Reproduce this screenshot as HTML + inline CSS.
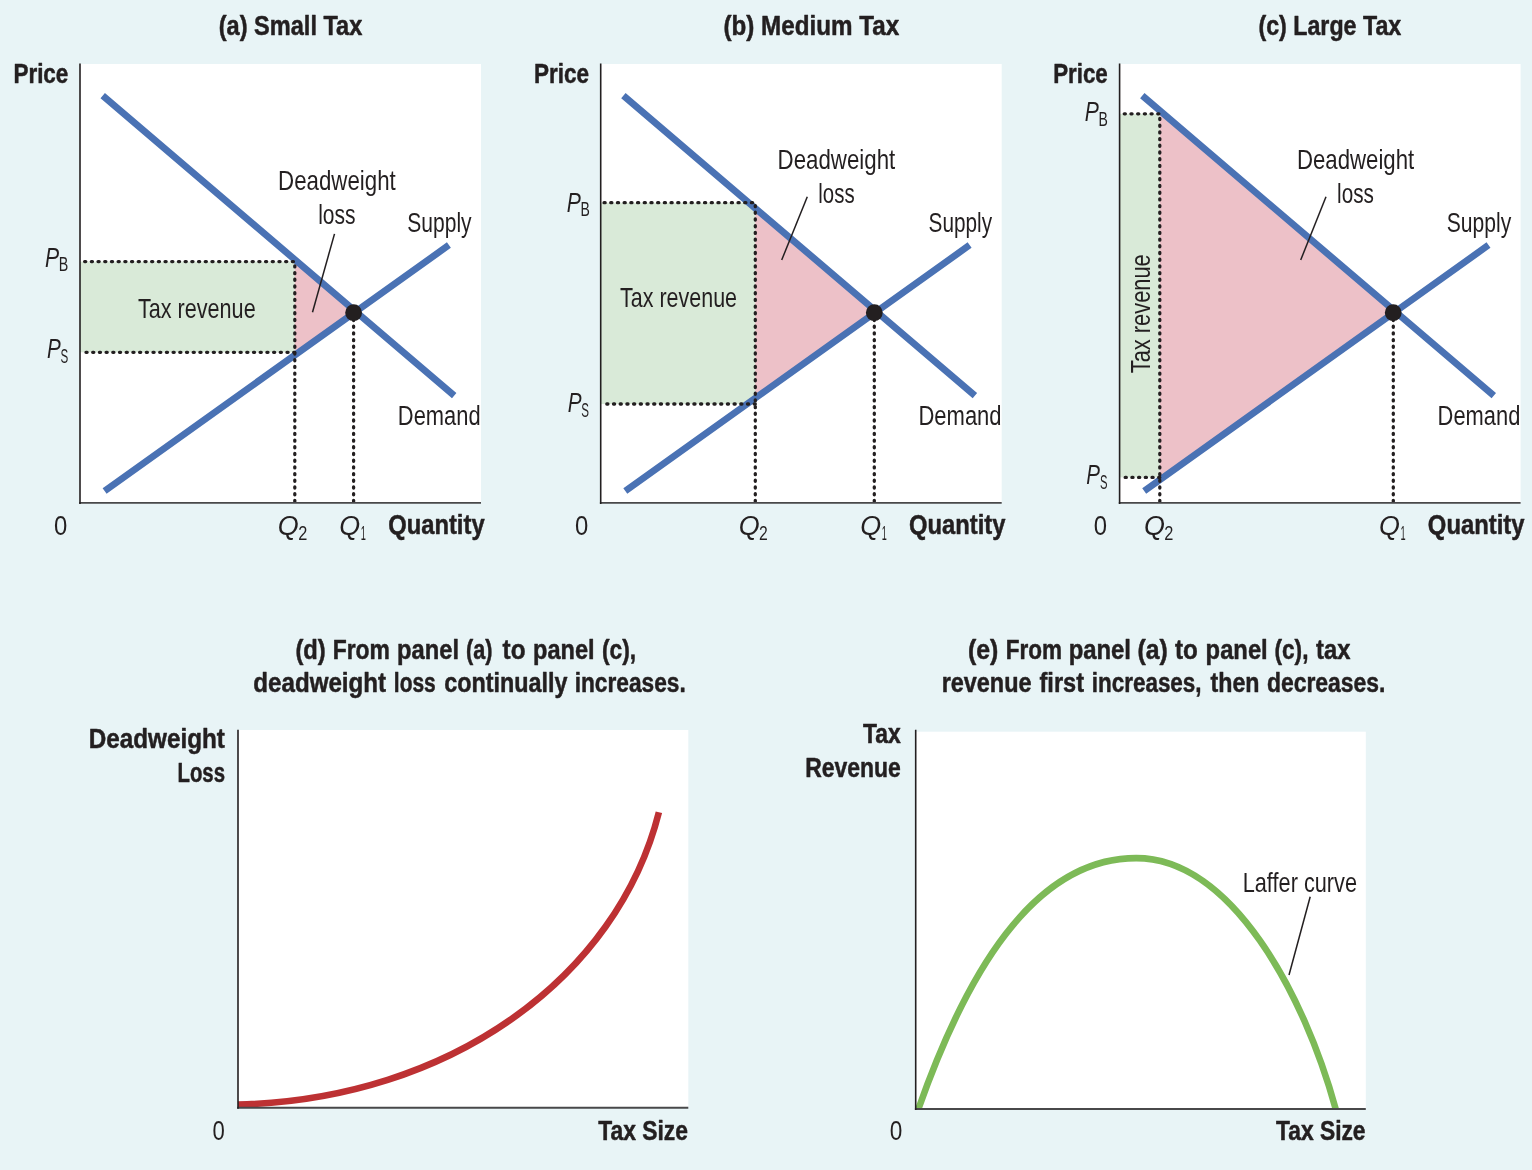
<!DOCTYPE html>
<html lang="en">
<head>
<meta charset="utf-8">
<title>Deadweight loss and tax revenue as tax size varies</title>
<style>
html,body{margin:0;padding:0;background:#e8f4f6;}
body{width:1532px;height:1170px;overflow:hidden;}
svg{display:block;}
text{font-family:"Liberation Sans",sans-serif;fill:#231f20;}
.dot{stroke:#231f20;stroke-width:3.3;stroke-linecap:round;stroke-dasharray:1.1 5.6;fill:none;}
.ptr{stroke:#231f20;stroke-width:1.5;fill:none;}
.b{font-weight:bold;stroke:#231f20;stroke-width:0.5;stroke-linejoin:round;}
</style>
</head>
<body>
<svg xmlns="http://www.w3.org/2000/svg" width="1532" height="1170" viewBox="0 0 1532 1170">
<rect width="1532" height="1170" fill="#e8f4f6"/>
<g id="panel-a"><rect x="80.0" y="64.0" width="401.0" height="439.0" fill="#fff"/>
<rect x="80.0" y="261.6" width="214.8" height="90.7" fill="#d9ead8"/>
<polygon points="294.8,259.6 353.6,312.7 294.8,355.2" fill="#edc1c8"/>
<path d="M102.7,95.7L454.2,395.6M104.6,491.0L448.9,245.1" stroke="#4a72b4" stroke-width="6.8" fill="none"/>
<path class="dot" stroke-dashoffset="-1.55" d="M294.8,503.0V261.6H80.0M353.6,503.0V312.7"/>
<path class="dot" stroke-dasharray="1.1 5.63" d="M294.8,352.3H83.0"/>
<circle cx="353.6" cy="312.7" r="8.4" fill="#231f20"/>
<path d="M79.2,502.9H481.0" stroke="#48484a" stroke-width="1.9" fill="none"/><path d="M80.0,63.5V503.9" stroke="#231f20" stroke-width="1.6" fill="none"/><path class="ptr" d="M334.5,233.9L312.5,312.2"/></g>
<g id="panel-b"><rect x="600.7" y="64.0" width="401.0" height="439.0" fill="#fff"/>
<rect x="600.7" y="202.7" width="154.6" height="201.3" fill="#d9ead8"/>
<polygon points="755.3,208.2 874.3,312.7 755.3,398.2" fill="#edc1c8"/>
<path d="M623.4,95.7L974.9,395.6M625.3,491.0L969.6,245.1" stroke="#4a72b4" stroke-width="6.8" fill="none"/>
<path class="dot" stroke-dashoffset="-1.55" d="M755.3,503.0V202.7H600.7M874.3,503.0V312.7"/>
<path class="dot" stroke-dasharray="1.1 5.63" d="M755.3,404.0H603.7"/>
<circle cx="874.3" cy="312.7" r="8.4" fill="#231f20"/>
<path d="M599.9,502.9H1001.7" stroke="#48484a" stroke-width="1.9" fill="none"/><path d="M600.7,63.5V503.9" stroke="#231f20" stroke-width="1.6" fill="none"/><path class="ptr" d="M807.3,196.7L781.7,260.0"/></g>
<g id="panel-c"><rect x="1119.6" y="64.0" width="401.0" height="439.0" fill="#fff"/>
<rect x="1119.6" y="113.8" width="40.2" height="363.6" fill="#d9ead8"/>
<polygon points="1159.8,110.6 1393.2,312.7 1159.8,479.9" fill="#edc1c8"/>
<path d="M1142.3,95.7L1493.8,395.6M1144.2,491.0L1488.5,245.1" stroke="#4a72b4" stroke-width="6.8" fill="none"/>
<path class="dot" stroke-dashoffset="-1.55" d="M1159.8,503.0V113.8H1119.6M1393.3,503.0V312.7"/>
<path class="dot" stroke-dasharray="1.1 5.63" d="M1159.8,477.4H1122.6"/>
<circle cx="1393.2" cy="312.7" r="8.4" fill="#231f20"/>
<path d="M1118.8,502.9H1520.6" stroke="#48484a" stroke-width="1.9" fill="none"/><path d="M1119.6,63.5V503.9" stroke="#231f20" stroke-width="1.6" fill="none"/><path class="ptr" d="M1326.0,196.7L1300.7,260.0"/></g>
<g id="panel-d">
<rect x="238" y="730" width="450.3" height="377.8" fill="#fff"/>
<path d="M238,1104.6C450.9,1099.3 617.2,977.2 658.9,812.2" stroke="#bd3133" stroke-width="6.6" fill="none"/>
<path d="M237.2,1107.8H688.3" stroke="#48484a" stroke-width="1.9" fill="none"/><path d="M238,729.7V1108.75" stroke="#231f20" stroke-width="1.6" fill="none"/>
</g>
<g id="panel-e">
<rect x="915.7" y="731.7" width="450.1" height="377.3" fill="#fff"/>
<path d="M918.4,1109.0C964.8,977.4 1031.9,858.1 1136.2,858.1C1231.7,858.1 1304.3,994.6 1335.7,1109.0" stroke="#7dba57" stroke-width="6.6" fill="none"/>
<path d="M914.9,1109.0H1365.8" stroke="#48484a" stroke-width="1.9" fill="none"/><path d="M915.7,729.7V1109.95" stroke="#231f20" stroke-width="1.6" fill="none"/>
<path class="ptr" d="M1310.2,896.8L1289.0,975.0"/>
</g>
<g id="labels">
<text id="a_title" font-size="27" class="b" transform="translate(218.74 34.60) scale(0.8730 1)">(a) Small Tax</text>
<text id="a_price" font-size="27" class="b" transform="translate(13.42 82.80) scale(0.8316 1)">Price</text>
<text id="a_dw" font-size="27" transform="translate(278.04 190.20) scale(0.8254 1)">Deadweight</text>
<text id="a_loss" font-size="27" transform="translate(318.18 224.00) scale(0.7784 1)">loss</text>
<text id="a_sup" font-size="27" transform="translate(407.27 232.00) scale(0.7797 1)">Supply</text>
<text id="a_pb" font-size="27" font-style="italic" transform="translate(44.91 267.00) scale(0.7843 1)">P</text>
<text id="a_pbs" font-size="19.8" transform="translate(58.73 271.30) scale(0.7228 1)">B</text>
<text id="a_tax" font-size="27" transform="translate(137.89 317.70) scale(0.8010 1)">Tax revenue</text>
<text id="a_ps" font-size="27" font-style="italic" transform="translate(47.10 358.00) scale(0.7635 1)">P</text>
<text id="a_pss" font-size="19.8" transform="translate(60.60 362.50) scale(0.5865 1)">S</text>
<text id="a_dem" font-size="27" transform="translate(397.86 425.00) scale(0.8114 1)">Demand</text>
<text id="a_0" font-size="27" transform="translate(54.12 535.00) scale(0.8853 1)">0</text>
<text id="a_q2" font-size="27" font-style="italic" transform="translate(277.67 534.50) scale(0.9982 1)">Q</text>
<text id="a_q2s" font-size="19.8" transform="translate(298.26 540.00) scale(0.8258 1)">2</text>
<text id="a_q1" font-size="27" font-style="italic" transform="translate(339.24 534.50) scale(0.9967 1)">Q</text>
<text id="a_q1s" font-size="19.8" transform="translate(360.76 540.00) scale(0.4686 1)">1</text>
<text id="a_qty" font-size="27" class="b" transform="translate(388.23 534.40) scale(0.8806 1)">Quantity</text>
<text id="b_title" font-size="27" class="b" transform="translate(723.43 34.60) scale(0.8972 1)">(b) Medium Tax</text>
<text id="b_price" font-size="27" class="b" transform="translate(533.97 82.80) scale(0.8326 1)">Price</text>
<text id="b_dw" font-size="27" transform="translate(777.62 168.80) scale(0.8250 1)">Deadweight</text>
<text id="b_loss" font-size="27" transform="translate(818.33 202.60) scale(0.7564 1)">loss</text>
<text id="b_sup" font-size="27" transform="translate(928.57 232.00) scale(0.7688 1)">Supply</text>
<text id="b_pb" font-size="27" font-style="italic" transform="translate(566.74 211.50) scale(0.7830 1)">P</text>
<text id="b_pbs" font-size="19.8" transform="translate(580.59 216.00) scale(0.7083 1)">B</text>
<text id="b_tax" font-size="27" transform="translate(620.11 306.90) scale(0.7958 1)">Tax revenue</text>
<text id="b_ps" font-size="27" font-style="italic" transform="translate(567.63 412.10) scale(0.7680 1)">P</text>
<text id="b_pss" font-size="19.8" transform="translate(581.28 416.50) scale(0.5854 1)">S</text>
<text id="b_dem" font-size="27" transform="translate(918.47 425.00) scale(0.8147 1)">Demand</text>
<text id="b_0" font-size="27" transform="translate(574.96 535.00) scale(0.8840 1)">0</text>
<text id="b_q2" font-size="27" font-style="italic" transform="translate(738.68 534.50) scale(0.9975 1)">Q</text>
<text id="b_q2s" font-size="19.8" transform="translate(759.05 540.00) scale(0.7965 1)">2</text>
<text id="b_q1" font-size="27" font-style="italic" transform="translate(860.18 534.50) scale(0.9987 1)">Q</text>
<text id="b_q1s" font-size="19.8" transform="translate(881.78 540.00) scale(0.4595 1)">1</text>
<text id="b_qty" font-size="27" class="b" transform="translate(909.04 534.40) scale(0.8810 1)">Quantity</text>
<text id="c_title" font-size="27" class="b" transform="translate(1258.44 34.60) scale(0.8607 1)">(c) Large Tax</text>
<text id="c_price" font-size="27" class="b" transform="translate(1053.13 82.80) scale(0.8272 1)">Price</text>
<text id="c_dw" font-size="27" transform="translate(1296.92 168.80) scale(0.8226 1)">Deadweight</text>
<text id="c_loss" font-size="27" transform="translate(1337.11 202.60) scale(0.7673 1)">loss</text>
<text id="c_sup" font-size="27" transform="translate(1446.75 232.00) scale(0.7818 1)">Supply</text>
<text id="c_pb" font-size="27" font-style="italic" transform="translate(1084.74 121.20) scale(0.7829 1)">P</text>
<text id="c_pbs" font-size="19.8" transform="translate(1098.59 125.60) scale(0.7083 1)">B</text>
<text id="c_tax" font-size="27" transform="translate(1149.70 373.22) rotate(-90) scale(0.8092 1)">Tax revenue</text>
<text id="c_ps" font-size="27" font-style="italic" transform="translate(1086.37 484.00) scale(0.7610 1)">P</text>
<text id="c_pss" font-size="19.8" transform="translate(1100.00 488.60) scale(0.5687 1)">S</text>
<text id="c_dem" font-size="27" transform="translate(1437.57 425.00) scale(0.8114 1)">Demand</text>
<text id="c_0" font-size="27" transform="translate(1093.73 535.00) scale(0.8839 1)">0</text>
<text id="c_q2" font-size="27" font-style="italic" transform="translate(1143.93 534.50) scale(0.9967 1)">Q</text>
<text id="c_q2s" font-size="19.8" transform="translate(1164.16 540.00) scale(0.8293 1)">2</text>
<text id="c_q1" font-size="27" font-style="italic" transform="translate(1378.93 534.50) scale(0.9967 1)">Q</text>
<text id="c_q1s" font-size="19.8" transform="translate(1400.50 540.00) scale(0.4667 1)">1</text>
<text id="c_qty" font-size="27" class="b" transform="translate(1427.86 534.40) scale(0.8826 1)">Quantity</text>
<text id="d_t1" font-size="27" class="b" transform="translate(293.93 658.60) scale(0.8700 1)"><tspan id="d_t1_w0" x="1.67" textLength="34.88" lengthAdjust="spacingAndGlyphs">(d)</tspan> <tspan id="d_t1_w1" x="44.56" textLength="65.80" lengthAdjust="spacingAndGlyphs">From</tspan> <tspan id="d_t1_w2" x="118.57" textLength="71.15" lengthAdjust="spacingAndGlyphs">panel</tspan> <tspan id="d_t1_w3" x="197.78" textLength="30.39" lengthAdjust="spacingAndGlyphs">(a)</tspan> <tspan id="d_t1_w4" x="239.81" textLength="26.37" lengthAdjust="spacingAndGlyphs">to</tspan> <tspan id="d_t1_w5" x="274.90" textLength="70.59" lengthAdjust="spacingAndGlyphs">panel</tspan> <tspan id="d_t1_w6" x="354.06" textLength="39.27" lengthAdjust="spacingAndGlyphs">(c),</tspan></text>
<text id="d_t2" font-size="27" class="b" transform="translate(252.60 691.60) scale(0.8700 1)"><tspan id="d_t2_w0" x="0.82" textLength="152.64" lengthAdjust="spacingAndGlyphs">deadweight</tspan> <tspan id="d_t2_w1" x="162.31" textLength="48.26" lengthAdjust="spacingAndGlyphs">loss</tspan> <tspan id="d_t2_w2" x="220.39" textLength="141.62" lengthAdjust="spacingAndGlyphs">continually</tspan> <tspan id="d_t2_w3" x="370.24" textLength="127.59" lengthAdjust="spacingAndGlyphs">increases.</tspan></text>
<text id="d_y1" font-size="27" class="b" transform="translate(88.76 748.00) scale(0.8990 1)">Deadweight</text>
<text id="d_y2" font-size="27" class="b" transform="translate(177.46 781.80) scale(0.7541 1)">Loss</text>
<text id="d_0" font-size="27" transform="translate(212.61 1140.10) scale(0.8187 1)">0</text>
<text id="d_x" font-size="27" class="b" transform="translate(598.21 1140.10) scale(0.8461 1)">Tax Size</text>
<text id="e_t1" font-size="27" class="b" transform="translate(966.60 658.60) scale(0.8700 1)"><tspan id="e_t1_w0" x="1.58" textLength="34.88" lengthAdjust="spacingAndGlyphs">(e)</tspan> <tspan id="e_t1_w1" x="44.88" textLength="64.77" lengthAdjust="spacingAndGlyphs">From</tspan> <tspan id="e_t1_w2" x="117.29" textLength="71.70" lengthAdjust="spacingAndGlyphs">panel</tspan> <tspan id="e_t1_w3" x="196.41" textLength="34.73" lengthAdjust="spacingAndGlyphs">(a)</tspan> <tspan id="e_t1_w4" x="239.54" textLength="26.29" lengthAdjust="spacingAndGlyphs">to</tspan> <tspan id="e_t1_w5" x="274.73" textLength="71.39" lengthAdjust="spacingAndGlyphs">panel</tspan> <tspan id="e_t1_w6" x="353.91" textLength="39.02" lengthAdjust="spacingAndGlyphs">(c),</tspan> <tspan id="e_t1_w7" x="401.73" textLength="39.40" lengthAdjust="spacingAndGlyphs">tax</tspan></text>
<text id="e_t2" font-size="27" class="b" transform="translate(939.73 691.60) scale(0.8700 1)"><tspan id="e_t2_w0" x="2.19" textLength="103.37" lengthAdjust="spacingAndGlyphs">revenue</tspan> <tspan id="e_t2_w1" x="114.72" textLength="51.15" lengthAdjust="spacingAndGlyphs">first</tspan> <tspan id="e_t2_w2" x="174.79" textLength="126.17" lengthAdjust="spacingAndGlyphs">increases,</tspan> <tspan id="e_t2_w3" x="311.23" textLength="56.35" lengthAdjust="spacingAndGlyphs">then</tspan> <tspan id="e_t2_w4" x="376.12" textLength="136.05" lengthAdjust="spacingAndGlyphs">decreases.</tspan></text>
<text id="e_y1" font-size="27" class="b" transform="translate(863.00 743.10) scale(0.8481 1)">Tax</text>
<text id="e_y2" font-size="27" class="b" transform="translate(805.14 777.00) scale(0.8505 1)">Revenue</text>
<text id="e_0" font-size="27" transform="translate(889.73 1140.10) scale(0.8369 1)">0</text>
<text id="e_x" font-size="27" class="b" transform="translate(1275.99 1140.10) scale(0.8449 1)">Tax Size</text>
<text id="e_laf" font-size="27" transform="translate(1242.70 892.00) scale(0.8049 1)">Laffer curve</text>
</g>
</svg>
</body>
</html>
